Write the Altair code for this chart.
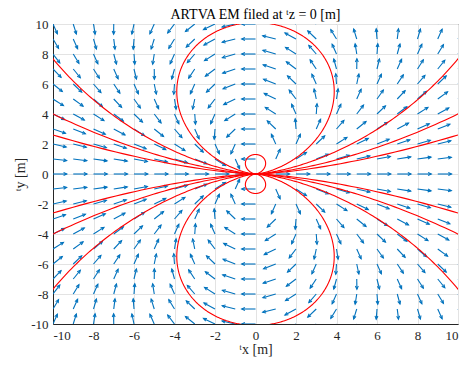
import math
import altair as alt
import pandas as pd

# ---- data ----
grid_x = list(range(-10, 11))          # quiver grid columns
grid_y = list(range(-10, 11))          # quiver grid rows
dipole_moment = [1.0, 0.0]             # dipole oriented along +x
line_constants = [1.3, 10.1, 34.0, 78.0, 163.0]   # field lines r = C sin^2(theta)
tick_values = list(range(-10, 11, 2))

W, H = 405, 300
L = 0.68                                 # arrow length in data units
sx, sy = W / 20.0, H / 20.0

shafts = []
for x in grid_x:
    for y in grid_y:
        if x == 0 and y == 0:
            continue
        r2 = x * x + y * y
        md = dipole_moment[0] * x + dipole_moment[1] * y
        hx = 3 * md * x / r2 - dipole_moment[0]
        hy = 3 * md * y / r2 - dipole_moment[1]
        n = math.hypot(hx, hy)
        dx, dy = L * hx / n, L * hy / n
        ang = math.degrees(math.atan2(dx * sx, dy * sy)) % 360
        shafts.append({"x": x, "y": y, "x2": x + dx, "y2": y + dy, "ang": ang})
arrows = pd.DataFrame(shafts)

pts = []
N = 600
for C in line_constants:
    for sgn in (1, -1):
        for i in range(N + 1):
            t = math.pi * i / N
            s = math.sin(t)
            pts.append({"key": f"{C}_{sgn}", "o": i,
                        "x": C * s * s * math.cos(t), "y": sgn * C * s ** 3})
lines = pd.DataFrame(pts)

FONT = "Liberation Serif"
AXFONT = "Liberation Serif, Times New Roman, serif"
xs = alt.Scale(domain=[-10, 10], nice=False, zero=False)
ys = alt.Scale(domain=[-10, 10], nice=False, zero=False)

ax_common = dict(values=tick_values, grid=True, labelExpr="'' + datum.value",
                 labelFont=AXFONT, titleFont=AXFONT, labelFontSize=13, titleFontSize=14)
x_axis = alt.Axis(title="ᵗx [m]", titlePadding=0, **ax_common)
y_axis = alt.Axis(title="ᵗy [m]", titlePadding=3, **ax_common)

shaft = alt.Chart(arrows).mark_rule(color="#0072BD", strokeWidth=1.1, clip=True).encode(
    x=alt.X("x:Q", scale=xs, axis=x_axis),
    y=alt.Y("y:Q", scale=ys, axis=y_axis),
    x2="x2:Q", y2="y2:Q",
)

heads = alt.Chart(arrows).mark_point(
    shape="M -0.55 1.2 L 0 0 L 0.55 1.2", filled=False, color="#0072BD",
    strokeWidth=1.1, size=28, opacity=1, clip=True
).encode(
    x=alt.X("x2:Q", scale=xs, axis=x_axis),
    y=alt.Y("y2:Q", scale=ys, axis=y_axis),
    angle=alt.Angle("ang:Q", scale=None),
)

field = alt.Chart(lines).mark_line(color="#FF0000", strokeWidth=1.1, clip=True).encode(
    x=alt.X("x:Q", scale=xs, axis=x_axis),
    y=alt.Y("y:Q", scale=ys, axis=y_axis),
    detail="key:N", order="o:Q",
)

chart = alt.layer(shaft, heads, field).properties(
    width=W, height=H,
    title=alt.TitleParams("ARTVA EM filed at ᵗz = 0 [m]", font=FONT, fontSize=14,
                          fontWeight="normal", color="#000000", offset=-4),
    autosize=alt.AutoSizeParams(type="none"),
    padding={"left": 45, "top": 16, "right": 4, "bottom": 37},
).configure_view(
    stroke="#262626", strokeWidth=1
).configure_axis(
    gridColor="#E3E3E3", gridWidth=1, domainColor="#262626", ticks=False,
    labelFont=AXFONT, labelFontSize=13, labelColor="#262626", labelPadding=5,
    titleFont=AXFONT, titleFontSize=14, titleFontWeight="normal", titleColor="#262626",
)

chart.save("out.html", embed_options={"renderer": "svg", "actions": False})
